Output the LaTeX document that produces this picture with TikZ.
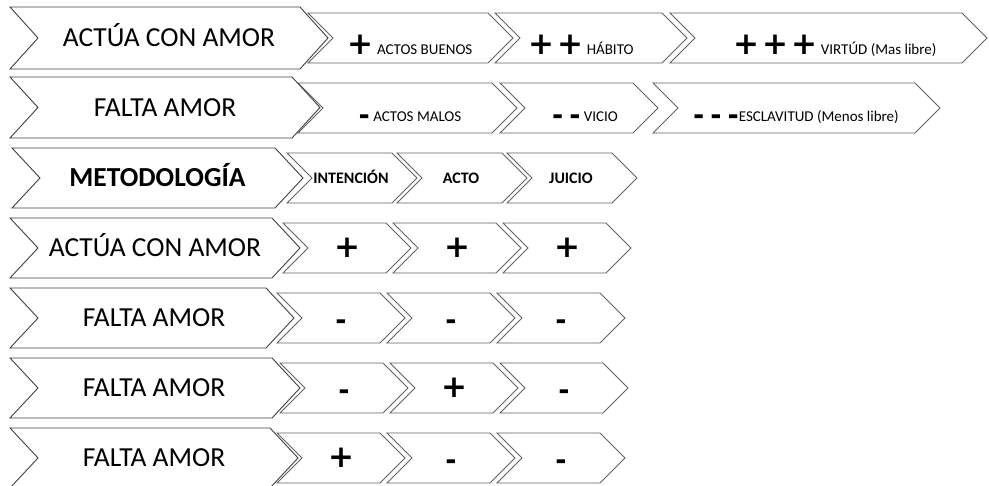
\documentclass[tikz,border=0pt]{standalone}
\usepackage{fontspec}
\setmainfont{Carlito}
\newfontfamily\symf{DejaVu Sans}
\newcommand\mychev[6]{% style, x0, tip, top, bottom, depth
  \draw[#1] (#2,#4) -- ({#3-#6},#4) -- (#3,{(#4+#5)/2}) -- ({#3-#6},#5) -- (#2,#5) -- ({#2+#6},{(#4+#5)/2}) -- cycle;}
\newcommand\plusfont{\symf\bfseries\fontsize{31}{33}\selectfont}
\newcommand\dashfont{\symf\bfseries\fontsize{27}{30}\selectfont}
\newcommand\plusgrp[1]{{\plusfont\spaceskip=3pt #1}}
\newcommand\dashgrp[1]{\raisebox{-2.5pt}{\dashfont\spaceskip=6pt #1}}
\tikzset{
  mainchev/.style={fill=white, draw=black!75, line width=0.9pt, line join=miter},
  smallchev/.style={fill=white, draw=black!62, line width=0.8pt, line join=miter},
  biglbl/.style={anchor=base, inner sep=0pt, font=\fontsize{27.5}{30}\selectfont},
  boldlbl/.style={anchor=base, inner sep=0pt, font=\fontsize{27.5}{30}\selectfont\bfseries},
  smalllbl/.style={anchor=base, inner sep=0pt, font=\fontsize{15}{17}\selectfont},
  headlbl/.style={anchor=base, inner sep=0pt, font=\fontsize{16}{18}\selectfont\bfseries},
  symlbl/.style={anchor=center, inner sep=0pt, font=\plusfont},
  dashlbl/.style={anchor=base, inner sep=0pt, font=\dashfont},
}
\begin{document}
\begin{tikzpicture}[x=1pt,y=-1pt]
\useasboundingbox (0,0) rectangle (989,486);
\fill[white] (0,0) rectangle (989,486);

% ---------- Row 1
\mychev{mainchev}{10}{328}{7}{69}{28}
\mychev{smallchev}{308}{513}{13}{63}{25}
\mychev{smallchev}{495}{687}{13}{63}{25}
\mychev{smallchev}{670}{987}{13}{63}{25}
\node[biglbl] (r1m) at (169,47) {ACTÚA CON AMOR};
\node[smalllbl] (r1a) at (410,55) {\plusgrp{+} ACTOS BUENOS};
\node[smalllbl] (r1b) at (581,55) {\plusgrp{+ +} HÁBITO};
\node[smalllbl] (r1c) at (835,55) {\plusgrp{+ + +} VIRTÚD (Mas libre)};

% ---------- Row 2
\mychev{mainchev}{10}{320}{77}{138}{28}
\mychev{smallchev}{298}{517}{83}{133}{25}
\mychev{smallchev}{500}{658}{83}{133}{25}
\mychev{smallchev}{653}{940}{83}{133}{25}
\node[biglbl] (r2m) at (165,116.5) {FALTA AMOR};
\node[smalllbl] (r2a) at (410,122) {\dashgrp{-} ACTOS MALOS};
\node[smalllbl] (r2b) at (585,122) {\dashgrp{- -} VICIO};
\node[smalllbl] (r2c) at (796,122) {\dashgrp{- - -}ESCLAVITUD (Menos libre)};

% ---------- Row 3
\mychev{mainchev}{12}{303}{148}{208}{28}
\mychev{smallchev}{287}{417}{153}{203}{25}
\mychev{smallchev}{397}{527}{153}{203}{25}
\mychev{smallchev}{507}{637}{153}{203}{25}
\node[boldlbl] (r3m) at (157.5,187) {METODOLOGÍA};
\node[headlbl] (r3a) at (351,183.5) {INTENCIÓN};
\node[headlbl] (r3b) at (461,183.5) {ACTO};
\node[headlbl] (r3c) at (571,183.5) {JUICIO};

% ---------- Row 4
\mychev{mainchev}{10}{300}{218}{278}{28}
\mychev{smallchev}{283}{411}{223}{273}{25}
\mychev{smallchev}{393}{521}{223}{273}{25}
\mychev{smallchev}{503}{631}{223}{273}{25}
\node[biglbl] (r4m) at (155,257) {ACTÚA CON AMOR};
\node[symlbl] (r4a) at (347,248) {+};
\node[symlbl] (r4b) at (457,248) {+};
\node[symlbl] (r4c) at (567,248) {+};

% ---------- Row 5
\mychev{mainchev}{10}{294}{288}{348}{28}
\mychev{smallchev}{277}{405}{293}{343}{25}
\mychev{smallchev}{387}{515}{293}{343}{25}
\mychev{smallchev}{497}{625}{293}{343}{25}
\node[biglbl] (r5m) at (154,327) {FALTA AMOR};
\node[dashlbl] (r5a) at (341,330) {-};
\node[dashlbl] (r5b) at (451,330) {-};
\node[dashlbl] (r5c) at (561,330) {-};

% ---------- Row 6
\mychev{mainchev}{10}{300}{358}{418}{28}
\mychev{smallchev}{280}{408}{363}{413}{25}
\mychev{smallchev}{390}{518}{363}{413}{25}
\mychev{smallchev}{500}{628}{363}{413}{25}
\node[biglbl] (r6m) at (154,397) {FALTA AMOR};
\node[dashlbl] (r6a) at (344,400) {-};
\node[symlbl] (r6b) at (454,388) {+};
\node[dashlbl] (r6c) at (564,400) {-};

% ---------- Row 7
\mychev{mainchev}{10}{298}{428}{488}{28}
\mychev{smallchev}{277}{405}{433}{483}{25}
\mychev{smallchev}{387}{515}{433}{483}{25}
\mychev{smallchev}{497}{625}{433}{483}{25}
\node[biglbl] (r7m) at (154,467) {FALTA AMOR};
\node[symlbl] (r7a) at (341,458) {+};
\node[dashlbl] (r7b) at (451,470) {-};
\node[dashlbl] (r7c) at (561,470) {-};
\end{tikzpicture}
\end{document}
